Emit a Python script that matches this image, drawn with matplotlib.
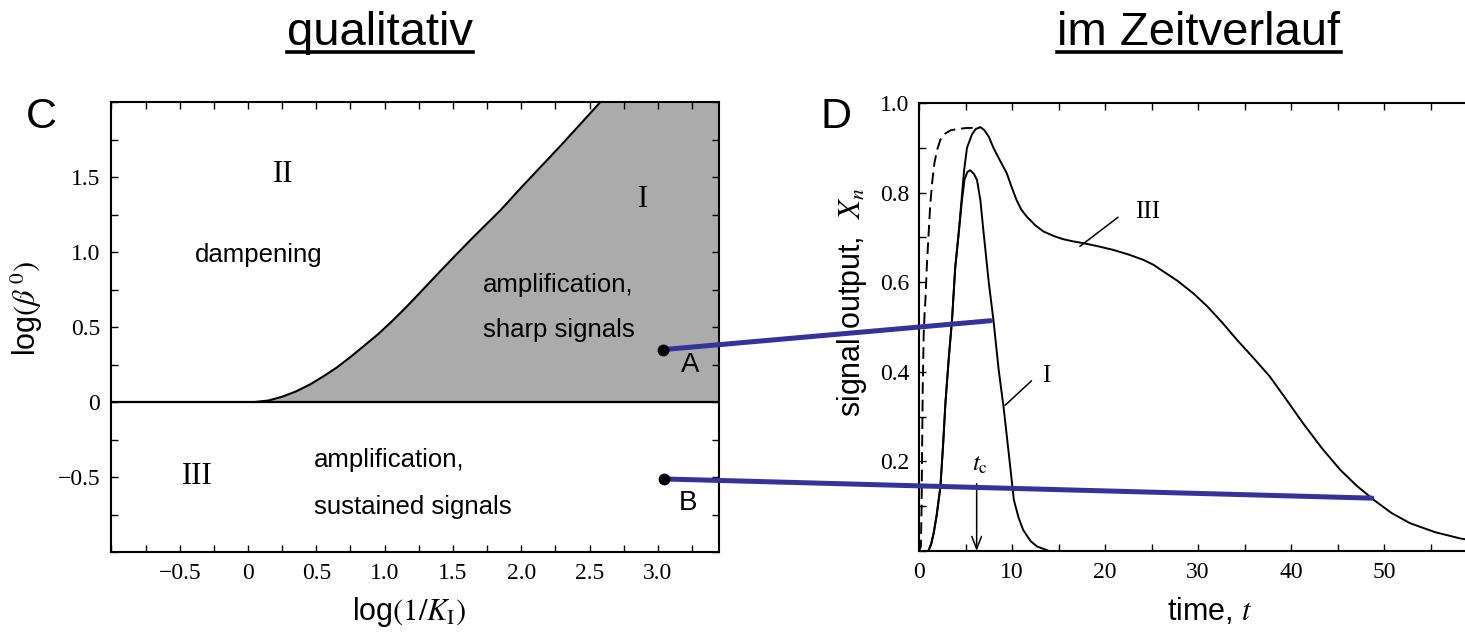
import numpy as np
import matplotlib
matplotlib.use('Agg')
import matplotlib.pyplot as plt
from matplotlib.patches import ConnectionPatch
from matplotlib.lines import Line2D
from matplotlib.ticker import MultipleLocator

plt.rcParams['font.family'] = ['Liberation Sans', 'DejaVu Sans']
plt.rcParams['mathtext.fontset'] = 'stix'

# --- Daten: Phasendiagramm (C) ---
bound_x = [0.05, 0.15, 0.25, 0.35, 0.45, 0.55, 0.65, 0.75, 0.85, 0.95, 1.05,
           1.15, 1.25, 1.4, 1.5, 1.65, 1.85, 2.0, 2.15, 2.3, 2.45, 2.58]
bound_y = [0.0, 0.01, 0.035, 0.07, 0.115, 0.17, 0.23, 0.30, 0.375, 0.45, 0.535,
           0.625, 0.72, 0.865, 0.96, 1.1, 1.28, 1.43, 1.575, 1.72, 1.87, 2.0]
c_xticks = [-0.5, 0, 0.5, 1.0, 1.5, 2.0, 2.5, 3.0]
c_xlabels = ['\u22120.5', '0', '0.5', '1.0', '1.5', '2.0', '2.5', '3.0']
c_yticks = [-0.5, 0, 0.5, 1.0, 1.5]
c_ylabels = ['\u22120.5', '0', '0.5', '1.0', '1.5']
pt_A = (3.036, 0.349)
pt_B = (3.045, -0.513)

# --- Daten: Zeitverlauf (D) ---
t_dash = [0, 0.2, 0.28, 0.33, 0.4, 0.5, 0.6, 0.69, 0.85, 1.04, 1.2, 1.4, 1.65,
          1.94, 2.3, 2.84, 3.4, 3.9, 5.0, 6.5]
y_dash = [0, 0.01, 0.1, 0.22, 0.36, 0.48, 0.53, 0.56, 0.64, 0.71, 0.77, 0.82,
          0.865, 0.895, 0.918, 0.932, 0.939, 0.941, 0.944, 0.945]

t_I = [0, 1.0, 1.3, 1.58, 1.9, 2.3, 2.6, 2.84, 3.2, 3.55, 3.9, 4.27, 4.63, 4.9,
       5.2, 5.5, 5.9, 6.24, 6.6, 6.95, 7.5, 8.0, 8.57, 9.1, 9.65, 10.2, 10.7,
       11.2, 12.0, 12.7, 14.0]
y_I = [0, 0, 0.015, 0.04, 0.08, 0.143, 0.24, 0.33, 0.43, 0.516, 0.634, 0.71,
       0.785, 0.83, 0.846, 0.85, 0.842, 0.828, 0.783, 0.71, 0.60, 0.516, 0.404,
       0.32, 0.218, 0.114, 0.075, 0.047, 0.022, 0.01, 0]

t_III = [0, 1.0, 1.3, 1.58, 1.9, 2.3, 2.6, 2.84, 3.2, 3.55, 3.9, 4.27, 4.6,
         4.85, 5.16, 5.7, 6.1, 6.6, 7.0, 7.5, 8.0, 8.7, 9.44, 10.0, 10.5, 11.0,
         11.6, 12.5, 13.4, 14.5, 15.5, 16.6, 17.7, 19.3, 20.9, 22.5, 24.1, 25.2,
         26.2, 27.8, 29.5, 31.0, 32.6, 34.2, 36.0, 37.7, 39.5, 41.3, 43.3, 45.3,
         47.1, 48.9, 50.8, 52.8, 55.5, 58.2, 60]
y_III = [0, 0, 0.015, 0.04, 0.08, 0.143, 0.24, 0.33, 0.43, 0.516, 0.634, 0.71,
         0.79, 0.85, 0.90, 0.93, 0.942, 0.946, 0.94, 0.925, 0.90, 0.872, 0.843,
         0.81, 0.783, 0.762, 0.746, 0.727, 0.713, 0.703, 0.696, 0.691, 0.687,
         0.68, 0.672, 0.662, 0.65, 0.639, 0.625, 0.603, 0.575, 0.546, 0.51,
         0.471, 0.43, 0.39, 0.338, 0.285, 0.23, 0.181, 0.145, 0.114, 0.085,
         0.062, 0.042, 0.028, 0.022]

d_xticks = [0, 10, 20, 30, 40, 50]
d_yticks = [0.2, 0.4, 0.6, 0.8, 1.0]
end_A = (7.7, 0.514)
end_B = (48.7, 0.118)

W, H = 1465, 638
fig = plt.figure(figsize=(W / 100, H / 100), dpi=100)

serif = 'Liberation Serif'
tick_fs = 17

# ---------------- Panel C ----------------
ax1 = fig.add_axes([111.4 / W, 1 - 552 / H, 607.9 / W, 450 / H])
xmax = 3.45
fill_x = list(bound_x) + [xmax]
fill_y = list(bound_y) + [2.0]
ax1.fill_between(fill_x, 0, fill_y, color='#ababab', lw=0)
ax1.plot(bound_x, bound_y, color='k', lw=1.5, solid_joinstyle='round')
ax1.axhline(0, color='k', lw=1.6)
ax1.set_xlim(-1.0, xmax)
ax1.set_ylim(-1.0, 2.0)
ax1.set_xticks(c_xticks, labels=c_xlabels)
ax1.set_yticks(c_yticks, labels=c_ylabels)
ax1.xaxis.set_minor_locator(MultipleLocator(0.25))
ax1.yaxis.set_minor_locator(MultipleLocator(0.25))
ax1.tick_params(which='both', direction='in', top=True, right=True,
                length=5, width=1)
ax1.tick_params(axis='both', labelsize=tick_fs, labelfontfamily=serif)
ax1.tick_params(axis='x', pad=8)
ax1.tick_params(axis='y', pad=8)
for s in ax1.spines.values():
    s.set_linewidth(1.5)

txt_fs = 18.5
ax1.text(0.255, 1.52, 'II', family=serif, fontsize=22, ha='center', va='center')
ax1.text(0.08, 0.98, 'dampening', fontsize=txt_fs, ha='center', va='center')
ax1.text(2.89, 1.35, 'I', family=serif, fontsize=22, ha='center', va='center')
ax1.text(1.72, 0.78, 'amplification,', fontsize=txt_fs, ha='left', va='center')
ax1.text(1.72, 0.48, 'sharp signals', fontsize=txt_fs, ha='left', va='center')
ax1.text(-0.37, -0.50, 'III', family=serif, fontsize=22, ha='center', va='center')
ax1.text(0.48, -0.39, 'amplification,', fontsize=txt_fs, ha='left', va='center')
ax1.text(0.48, -0.70, 'sustained signals', fontsize=txt_fs, ha='left', va='center')
ax1.text(3.236, 0.25, 'A', fontsize=20, ha='center', va='center')
ax1.text(3.22, -0.67, 'B', fontsize=20, ha='center', va='center')

# ---------------- Panel D ----------------
ax2 = fig.add_axes([919 / W, 1 - 551 / H, 558 / W, 448 / H])
ax2.plot(t_dash, y_dash, color='k', lw=1.4, ls='--', dashes=(6, 3))
ax2.plot(t_I, y_I, color='k', lw=1.4, solid_joinstyle='round')
ax2.plot(t_III, y_III, color='k', lw=1.4, solid_joinstyle='round')
ax2.set_xlim(0, 60)
ax2.set_ylim(0, 1.0)
ax2.set_xticks(d_xticks, labels=[str(v) for v in d_xticks])
ax2.set_yticks(d_yticks, labels=['%.1f' % v for v in d_yticks])
ax2.xaxis.set_minor_locator(MultipleLocator(5))
ax2.yaxis.set_minor_locator(MultipleLocator(0.1))
ax2.tick_params(which='both', direction='in', top=True, right=True,
                length=5, width=1)
ax2.tick_params(axis='both', labelsize=tick_fs, labelfontfamily=serif)
ax2.tick_params(axis='x', pad=8)
ax2.tick_params(axis='y', pad=7)
for s in ax2.spines.values():
    s.set_linewidth(1.5)

ax2.annotate('', xy=(9.25, 0.325), xytext=(12.1, 0.38),
             arrowprops=dict(arrowstyle='-', color='k', lw=1.1,
                             shrinkA=0, shrinkB=0))
ax2.text(13.7, 0.39, 'I', family=serif, fontsize=18, ha='center', va='center')
ax2.annotate('', xy=(17.3, 0.68), xytext=(21.4, 0.745),
             arrowprops=dict(arrowstyle='-', color='k', lw=1.1,
                             shrinkA=0, shrinkB=0))
ax2.text(24.6, 0.757, 'III', family=serif, fontsize=18, ha='center', va='center')
ax2.annotate('', xy=(6.2, 0.0), xytext=(6.2, 0.15),
             arrowprops=dict(arrowstyle='->,head_length=0.9,head_width=0.35',
                             color='k', lw=1.1, shrinkA=0, shrinkB=0))
ax2.text(6.6, 0.195, r'$t_{\rm c}$', fontsize=18, ha='center', va='center')

# ---------------- Beschriftungen ----------------
fig.text(41 / W, 1 - 117 / H, 'C', fontsize=31, ha='center', va='center')
fig.text(836 / W, 1 - 117 / H, 'D', fontsize=31, ha='center', va='center')
fig.text(27 / W, 1 - 308 / H, r'log$(\beta^{\,0})$', fontsize=22,
         rotation=90, ha='center', va='center')
fig.text(409 / W, 1 - 612 / H, r'log$(1/K_{\rm I})$', fontsize=22,
         ha='center', va='center')
fig.text(852 / W, 1 - 302 / H, r'signal output,  $X_n$', fontsize=22,
         rotation=90, ha='center', va='center')
fig.text(1210 / W, 1 - 612 / H, r'time, $t$', fontsize=22,
         ha='center', va='center')

titles = [fig.text(380 / W, 1 - 45 / H, 'qualitativ', fontsize=34,
                   ha='center', va='baseline'),
          fig.text(1199 / W, 1 - 45 / H, 'im Zeitverlauf', fontsize=34,
                   ha='center', va='baseline')]

# Verbindungslinien A -> I, B -> III
for p0, p1 in [(pt_A, end_A), (pt_B, end_B)]:
    con = ConnectionPatch(xyA=p0, coordsA=ax1.transData,
                          xyB=p1, coordsB=ax2.transData,
                          color='#333399', lw=3.6, zorder=10)
    fig.add_artist(con)
    fig.add_artist(Line2D([p0[0]], [p0[1]], transform=ax1.transData,
                          marker='o', ms=7.5, color='k', zorder=11))

# Unterstreichung der Überschriften
fig.canvas.draw()
r = fig.canvas.get_renderer()
for t in titles:
    bb = t.get_window_extent(r)
    yl = 1 - 52 / H
    fig.add_artist(Line2D([bb.x0 / W, bb.x1 / W], [yl, yl],
                          transform=fig.transFigure, color='k', lw=2.6))

fig.savefig('out.png', dpi=100)
